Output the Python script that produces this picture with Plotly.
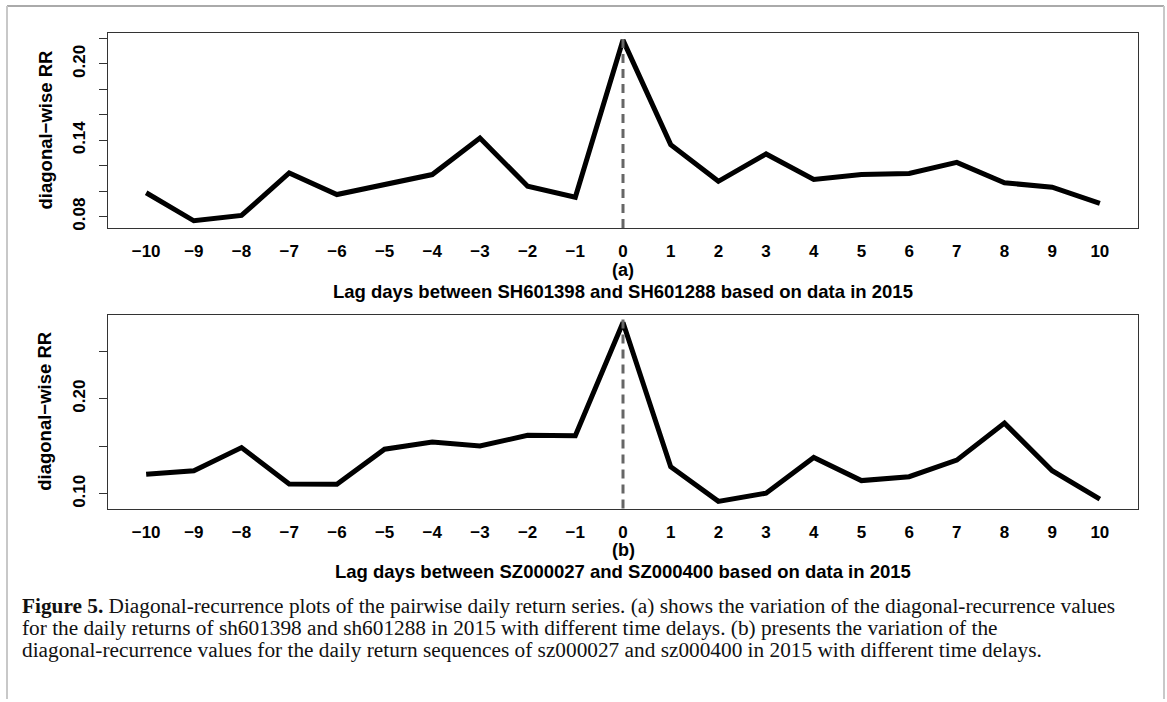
import plotly.graph_objects as go

# Lag (days) and diagonal-wise recurrence rate for each stock pair
lags = list(range(-10, 11))
rr_sh = [0.0988, 0.0768, 0.0810, 0.1144, 0.0974, 0.1053, 0.1131, 0.1418, 0.1039, 0.0953, 0.2187,
         0.1366, 0.1078, 0.1293, 0.1092, 0.1131, 0.1139, 0.1227, 0.1066, 0.1032, 0.0904]
rr_sz = [0.1205, 0.1243, 0.1486, 0.1104, 0.1101, 0.1469, 0.1545, 0.1503, 0.1615, 0.1611, 0.2800,
         0.1285, 0.0921, 0.1007, 0.1382, 0.1139, 0.1180, 0.1354, 0.1743, 0.1243, 0.0945]

# y-axis ticks (only some labelled)
ticks_a = [0.08, 0.10, 0.12, 0.14, 0.16, 0.18, 0.20, 0.22]
labels_a = ["0.08", "", "", "0.14", "", "", "0.20", ""]
ticks_b = [0.10, 0.15, 0.20, 0.25]
labels_b = ["0.10", "", "0.20", ""]

x_labels = [str(v).replace("-", "\u2212") for v in lags]

caption_lines = [
    "<b>Figure 5.</b> Diagonal-recurrence plots of the pairwise daily return series. "
    "(a) shows the variation of the diagonal-recurrence values",
    "for the daily returns of sh601398 and sh601288 in 2015 with different time delays. "
    "(b) presents the variation of the",
    "diagonal-recurrence values for the daily return sequences of sz000027 and sz000400 "
    "in 2015 with different time delays.",
]

W, H = 1167, 702
SANS = "Liberation Sans"
SERIF = "Liberation Serif"


def padded(vals, frac=0.04):
    lo, hi = min(vals), max(vals)
    d = (hi - lo) * frac
    return [lo - d, hi + d]


def px(x):
    return x / W


def py(y):
    return 1 - y / H


fig = go.Figure()
fig.add_trace(go.Scatter(x=lags, y=rr_sh, mode="lines", xaxis="x", yaxis="y",
                         line=dict(color="black", width=5), showlegend=False))
fig.add_trace(go.Scatter(x=lags, y=rr_sz, mode="lines", xaxis="x2", yaxis="y2",
                         line=dict(color="black", width=5), showlegend=False))

xrange_ = [-10.8, 10.8]
common_x = dict(range=xrange_, tickvals=lags, ticktext=x_labels, showline=True, mirror=True,
                linecolor="#333", linewidth=1, showgrid=False, zeroline=False,
                ticks="outside", ticklen=8, tickcolor="rgba(0,0,0,0)",
                tickfont=dict(family=SANS, size=17, color="black", weight="bold"))
common_y = dict(showline=True, mirror=True, linecolor="#333", linewidth=1, showgrid=False,
                zeroline=False, ticks="outside", ticklen=8, tickcolor="#333", tickangle=-90,
                ticklabelstandoff=7,
                tickfont=dict(family=SANS, size=17, color="black", weight="bold"))

dom_x = [px(108), px(1138)]
fig.update_layout(
    width=W, height=H, margin=dict(l=0, r=0, t=0, b=0),
    paper_bgcolor="white", plot_bgcolor="white",
    xaxis=dict(domain=dom_x, anchor="y", **common_x),
    yaxis=dict(domain=[py(229), py(33)], anchor="x", range=padded(rr_sh),
               tickvals=ticks_a, ticktext=labels_a, **common_y),
    xaxis2=dict(domain=dom_x, anchor="y2", **common_x),
    yaxis2=dict(domain=[py(510.7), py(316.7)], anchor="x2", range=padded(rr_sz),
                tickvals=ticks_b, ticktext=labels_b, **common_y),
)

# dashed reference line at zero lag
for xr, yr in (("x", "y domain"), ("x2", "y2 domain")):
    fig.add_shape(type="line", xref=xr, yref=yr, x0=0, x1=0, y0=0, y1=1,
                  line=dict(color="#666", width=3, dash="9px,6px"))

# page frame
fig.add_shape(type="line", xref="paper", yref="paper", x0=px(7), x1=px(1164), y0=py(6), y1=py(6),
              line=dict(color="#aaa", width=2))
fig.add_shape(type="line", xref="paper", yref="paper", x0=px(7), x1=px(7), y0=py(6), y1=0,
              line=dict(color="#c8c8c8", width=2))
fig.add_shape(type="line", xref="paper", yref="paper", x0=px(1164), x1=px(1164), y0=py(6), y1=0,
              line=dict(color="#c8c8c8", width=2))

bold = dict(family=SANS, size=18.5, color="black", weight="bold")
ytitle = dict(family=SANS, size=18.5, color="black", weight="bold")
panel = dict(family=SANS, size=18, color="black", weight="bold")
ann = [
    dict(x=px(45), y=py(131), text="diagonal\u2212wise RR", textangle=-90, font=ytitle),
    dict(x=px(45), y=py(413.5), text="diagonal\u2212wise RR", textangle=-90, font=ytitle),
    dict(x=px(623), y=py(271), text="(a)", font=panel),
    dict(x=px(623), y=py(293), text="Lag days between SH601398 and SH601288 based on data in 2015", font=bold),
    dict(x=px(623), y=py(552.5), text="(b)", font=panel),
    dict(x=px(623), y=py(573.5), text="Lag days between SZ000027 and SZ000400 based on data in 2015", font=bold),
]
for a in ann:
    fig.add_annotation(xref="paper", yref="paper", showarrow=False, xanchor="center",
                       yanchor="middle", borderpad=0, **a)

# figure caption, one annotation per line
for i, line in enumerate(caption_lines):
    fig.add_annotation(xref="paper", yref="paper", x=px(21), y=py(609 + 22 * i), xanchor="left",
                       yanchor="middle", align="left", showarrow=False, text=line, borderpad=0,
                       font=dict(family=SERIF, size=21.3, color="#111"))

fig.write_html("out.html")
